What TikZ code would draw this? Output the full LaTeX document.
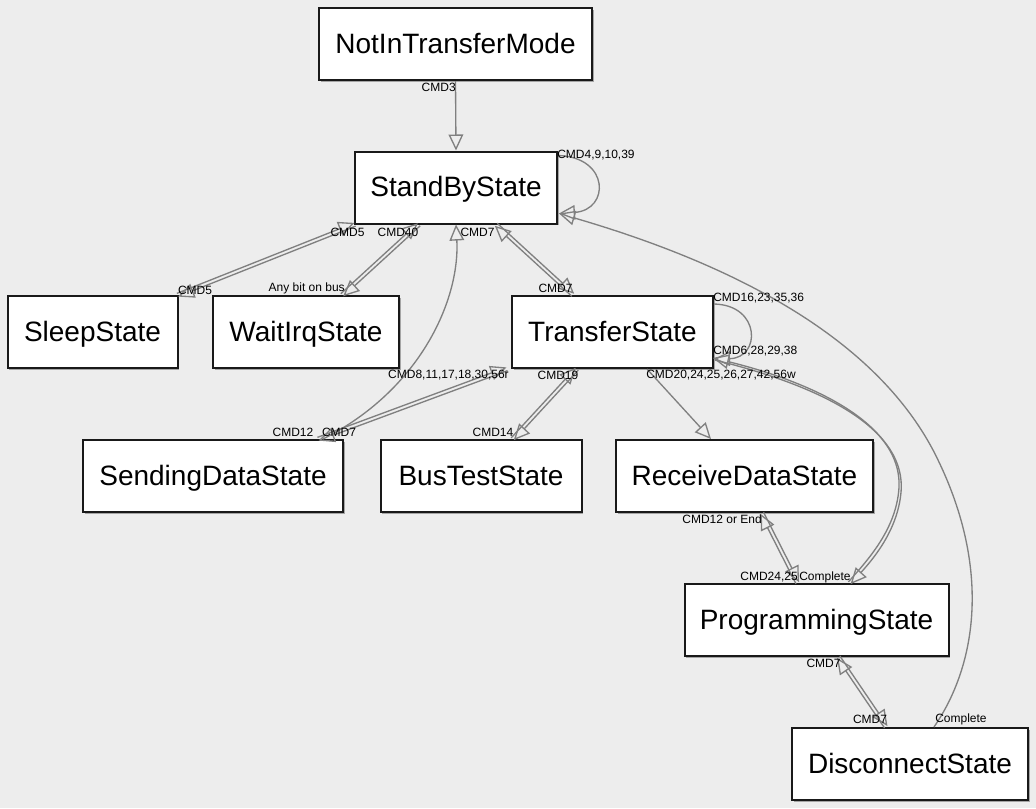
\documentclass[tikz,border=0pt]{standalone}
\usepackage{fontspec}
\setmainfont{Liberation Sans}
\usetikzlibrary{arrows.meta,calc,shadows}
\definecolor{bgcol}{HTML}{EDEDED}
\definecolor{edgecol}{HTML}{808080}
\newcommand{\pairedge}[2]{%
 \draw[conn] ($(#1)!1.3pt!90:(#2)$) -- ($(#2)!1.3pt!-90:(#1)$);
 \draw[conn] ($(#2)!1.3pt!90:(#1)$) -- ($(#1)!1.3pt!-90:(#2)$);}
\begin{document}
\begin{tikzpicture}[x=0.75pt,y=-0.75pt,
  stbox/.style={draw=black!90, line width=1.5pt, fill=white, rectangle, minimum height=54pt, inner sep=0pt,
    font=\fontsize{21}{25}\selectfont, text height=15pt, text depth=1pt,
    drop shadow={shadow xshift=1.2pt, shadow yshift=-1.2pt, opacity=0.3, fill=black}},
  conn/.style={draw=edgecol, line width=1pt, -{Triangle[open, length=12pt, width=11pt]}},
  lbl/.style={font=\fontsize{9}{10}\selectfont, inner sep=0pt, text=black},
]
\fill[bgcol] (0,0) rectangle (1036,808);
\useasboundingbox (0,0) rectangle (1036,808);

% states
\node[stbox, minimum width=204.75pt] (nitm) at (455.5,44) {NotInTransferMode};
\node[stbox, minimum width=151.5pt] (standby) at (456,187.5) {StandByState};
\node[stbox, minimum width=127.5pt] (sleep) at (92.5,332) {SleepState};
\node[stbox, minimum width=139.5pt] (waitirq) at (306,332) {WaitIrqState};
\node[stbox, minimum width=150.75pt] (transfer) at (612.5,332) {TransferState};
\node[stbox, minimum width=195pt] (sending) at (213,476) {SendingDataState};
\node[stbox, minimum width=150.75pt] (bustest) at (481,476) {BusTestState};
\node[stbox, minimum width=192.75pt] (receive) at (744.5,476) {ReceiveDataState};
\node[stbox, minimum width=198pt] (programming) at (816.5,620) {ProgrammingState};
\node[stbox, minimum width=177pt] (disconnect) at (910,764) {DisconnectState};

% attachment points
\coordinate (sbSleep) at ($(standby.south west)+(1,0)$);
\coordinate (slTop) at ($(sleep.north east)+(-1,0)$);
\coordinate (sbWait) at ($(standby.south west)+(65,0)$);
\coordinate (wiTop) at ($(waitirq.north west)+(130,0)$);
\coordinate (sbTr) at ($(standby.south west)+(142,0)$);
\coordinate (trTop) at ($(transfer.north west)+(62,0)$);
\coordinate (trSend) at ($(transfer.south west)+(-4,0)$);
\coordinate (sdTop) at ($(sending.north east)+(-26,0)$);
\coordinate (trBus) at ($(transfer.south west)+(66,0)$);
\coordinate (btTop) at ($(bustest.north west)+(133,0)$);
\coordinate (rdBot) at ($(receive.south west)+(147,0)$);
\coordinate (pgTop) at ($(programming.north west)+(114,0)$);
\coordinate (pgBot) at ($(programming.south west)+(155,0)$);
\coordinate (dcTop) at ($(disconnect.north west)+(95,0)$);
\coordinate (sbRight) at ($(standby.south east)+(1,-11)$);

% edges
\draw[conn] (nitm.south) -- (standby.north);
\draw[conn] ($(standby.north east)+(0,5)$) .. controls (610,157) and (610,210) .. (sbRight);
\pairedge{sbSleep}{slTop}
\pairedge{sbWait}{wiTop}
\pairedge{sbTr}{trTop}
\draw[conn] ($(sending.north east)+(-21,0)$) .. controls (420,390) and (460,300) .. (standby.south);
\pairedge{trSend}{sdTop}
\pairedge{trBus}{btTop}
\draw[conn] ($(transfer.south west)+(136,0)$) -- ($(receive.north west)+(96,0)$);
\draw[conn] ($(transfer.north east)+(0,9)$) .. controls (761,305) and (761,358) .. ($(transfer.south east)+(0,-10)$);
\begin{scope}[transform canvas={shift={(1.1,1.1)}}]
\draw[conn] ($(transfer.south east)+(0,-10)$) .. controls (800,380) and (905,420) .. (900,490)
   .. controls (897,530) and (870,560) .. ($(programming.north west)+(166,0)$);
\end{scope}
\begin{scope}[transform canvas={shift={(-1.1,-1.1)}}]
\draw[conn] ($(programming.north west)+(166,0)$) .. controls (870,560) and (897,530) .. (900,490)
   .. controls (905,420) and (800,380) .. ($(transfer.south east)+(0,-10)$);
\end{scope}
\pairedge{rdBot}{pgTop}
\pairedge{pgBot}{dcTop}
\draw[conn] ($(disconnect.north west)+(143,0)$) .. controls (980,660) and (990,560) .. (933,450)
   .. controls (880,350) and (760,272) .. (sbRight);

% labels
\node[lbl, anchor=east] (lcmd3) at (456,87) {CMD3};
\node[lbl, anchor=west] (lsbloop) at (557,155) {CMD4,9,10,39};
\node[lbl] (lsb5) at (347.5,232) {CMD5};
\node[lbl] (lsb40) at (398,232) {CMD40};
\node[lbl] (lsb7) at (477.5,232) {CMD7};
\node[lbl] (lsl5) at (195,290) {CMD5};
\node[lbl, anchor=east] (lany) at (345,288) {Any bit on bus};
\node[lbl] (ltr7) at (555.5,288) {CMD7};
\node[lbl, anchor=west] (ltrloop) at (713,298) {CMD16,23,35,36};
\node[lbl, anchor=west] (ltrpg) at (713,351) {CMD6,28,29,38};
\node[lbl, anchor=east] (ltrsend) at (509,375) {CMD8,11,17,18,30,56r};
\node[lbl] (ltr19) at (558,375) {CMD19};
\node[lbl, anchor=west] (ltrrd) at (646,375) {CMD20,24,25,26,27,42,56w};
\node[lbl] (lsd12) at (293,432) {CMD12};
\node[lbl] (lsd7) at (339,432) {CMD7};
\node[lbl] (lbt14) at (493,432) {CMD14};
\node[lbl, anchor=east] (lrd12) at (762,519) {CMD12 or End};
\node[lbl, anchor=east] (lpg2425) at (798,577) {CMD24,25};
\node[lbl, anchor=west] (lpgc) at (799,577) {Complete};
\node[lbl] (lpg7) at (823.5,663) {CMD7};
\node[lbl] (ldc7) at (870,719) {CMD7};
\node[lbl, anchor=west] (ldcc) at (935,719) {Complete};
\end{tikzpicture}
\end{document}
